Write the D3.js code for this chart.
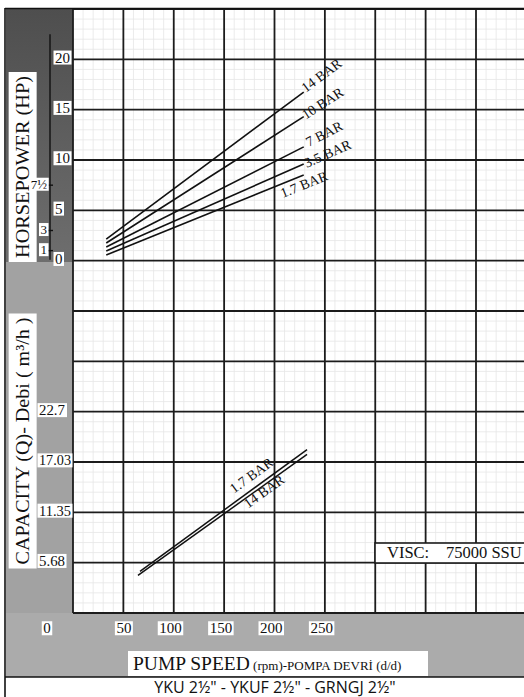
<!DOCTYPE html>
<html><head><meta charset="utf-8">
<script src="https://cdn.jsdelivr.net/npm/d3@7"></script>
<style>html,body{margin:0;padding:0;background:#fff}svg{display:block}</style>
</head><body>
<script>
// ---------- DATA ----------
const rpmTicks = [0, 50, 100, 150, 200, 250];
const hpTicks = [0, 5, 10, 15, 20];
const hpMarkValues = [1, 3, 7.5];
const hpMarkLabels = ["1", "3", "7½"];
const capTicks = [5.68, 11.35, 17.03, 22.7];
const capTickLabels = ["5.68", "11.35", "17.03", "22.7"];

const hpSeriesNames = ["14 BAR", "10 BAR", "7 BAR", "3.5 BAR", "1.7 BAR"];
const hpSpeed = [33, 229];          // rpm at both ends of HP lines
const hp14Bar = [2.15, 16.75];
const hp10Bar = [1.76, 14.3];
const hp7Bar = [1.36, 11.3];
const hp35Bar = [0.96, 9.6];
const hp17Bar = [0.57, 8.5];

const capSeriesNames = ["1.7 BAR", "14 BAR"];
const capSpeed17 = [66.5, 232.3];
const capSpeed14 = [64.5, 232.3];
const cap17Bar = [4.7, 18.45];
const cap14Bar = [4.25, 17.9];

const xTitleMain = "PUMP SPEED";
const xTitleSub = " (rpm)-POMPA DEVRİ (d/d)";
const hpTitle = "HORSEPOWER (HP)";
const capTitle = "CAPACITY (Q)- Debi ( m³/h )";
const viscText = ["VISC:", "75000 SSU"];
const chartTitle = "YKU 2½\" - YKUF 2½\" - GRNGJ 2½\"";

// ---------- LAYOUT ----------
const W = 524, H = 697;
const serif = "'Liberation Serif','Times New Roman',serif";
const svg = d3.select("body").append("svg").attr("width", W).attr("height", H);

const x = d3.scaleLinear().domain([0, 400]).range([73, 476]);
const yHP = d3.scaleLinear().domain([0, 20]).range([260.7, 59.3]);
const yCap = d3.scaleLinear().domain([0, 22.72]).range([613, 411.7]);
const yRow = d3.scaleLinear().domain([0, 12]).range([613, 9]);

const defs = svg.append("defs");
const grad = defs.append("linearGradient").attr("id", "dark").attr("x1", 0).attr("x2", 0).attr("y1", 0).attr("y2", 1);
grad.append("stop").attr("offset", "0%").attr("stop-color", "#4e4e4e");
grad.append("stop").attr("offset", "100%").attr("stop-color", "#6e6e6e");

svg.append("rect").attr("width", W).attr("height", H).attr("fill", "#fff");
// left panel
svg.append("rect").attr("x", 6).attr("y", 8).attr("width", 67).attr("height", 254).attr("fill", "url(#dark)");
svg.append("rect").attr("x", 6).attr("y", 262).attr("width", 67).attr("height", 351).attr("fill", "#a2a2a2");
// bottom band
svg.append("rect").attr("x", 6).attr("y", 613).attr("width", W - 6).attr("height", 64).attr("fill", "#ababab");

// minor grid
const gMinor = svg.append("g").attr("stroke", "#e6e6e6").attr("stroke-width", 0.8);
d3.range(0, 460, 10).filter(v => v % 50 !== 0 && x(v) < W).forEach(v => {
  gMinor.append("line").attr("x1", x(v)).attr("x2", x(v)).attr("y1", yRow(12)).attr("y2", yRow(0));
});
d3.range(0, 60).filter(i => i % 5 !== 0).forEach(i => {
  const yy = yRow(i / 5);
  gMinor.append("line").attr("x1", x(0)).attr("x2", W).attr("y1", yy).attr("y2", yy);
});
// major grid
const gMajor = svg.append("g").attr("stroke", "#1c1c1c").attr("stroke-width", 1.8);
d3.range(0, 460, 50).filter(v => x(v) < W + 2).forEach(v => {
  gMajor.append("line").attr("x1", x(v)).attr("x2", x(v)).attr("y1", yRow(12)).attr("y2", yRow(0));
});
d3.range(0, 13).forEach(i => {
  gMajor.append("line").attr("x1", x(0)).attr("x2", W).attr("y1", yRow(i)).attr("y2", yRow(i));
});

// borders
const gB = svg.append("g").attr("stroke", "#111").attr("stroke-width", 1.6);
gB.append("line").attr("x1", 5).attr("x2", 5).attr("y1", 8).attr("y2", H);
gB.append("line").attr("x1", 5).attr("x2", W).attr("y1", 8.5).attr("y2", 8.5);
gB.append("line").attr("x1", 5).attr("x2", W).attr("y1", 677).attr("y2", 677);

// boxed label helper
function label(parent, o) {
  const g = parent.append("g").attr("transform", `translate(${o.x},${o.y}) rotate(${o.rotate || 0})`);
  const t = g.append("text")
    .attr("text-anchor", o.anchor || "start")
    .attr("font-family", o.family || serif)
    .attr("font-size", o.size)
    .attr("dy", o.dy == null ? "0.35em" : o.dy)
    .attr("fill", "#111")
    .text(o.text);
  if (o.len) t.attr("textLength", o.len).attr("lengthAdjust", "spacingAndGlyphs");
  if (o.box) {
    const b = t.node().getBBox();
    const px = o.padX == null ? 1.5 : o.padX, py = o.padY == null ? -1 : o.padY;
    g.insert("rect", "text").attr("x", b.x - px).attr("y", b.y - py)
      .attr("width", b.width + 2 * px).attr("height", b.height + 2 * py).attr("fill", "#fff");
  }
  return t;
}

// axis titles (rotated)
label(svg, {x: 22, y: 167, rotate: -90, anchor: "middle", size: 19, text: hpTitle, box: true, padX: 4, padY: 3, len: 182});
label(svg, {x: 22, y: 441, rotate: -90, anchor: "middle", size: 19, text: capTitle, box: true, padX: 4, padY: 3, len: 247});

// HP tick labels
hpTicks.forEach(v => label(svg, {x: 55, y: yHP(v) - 2, size: 15, text: String(v), box: true}));
// HP small axis
svg.append("line").attr("x1", 50).attr("x2", 50).attr("y1", yHP(22.5)).attr("y2", yHP(0.1))
  .attr("stroke", "#111").attr("stroke-width", 1.4);
hpMarkValues.forEach((v, i) => {
  svg.append("line").attr("x1", 47).attr("x2", 53).attr("y1", yHP(v)).attr("y2", yHP(v))
    .attr("stroke", "#111").attr("stroke-width", 1.4);
  label(svg, {x: 47, y: yHP(v) - 1, anchor: "end", size: 13, text: hpMarkLabels[i], box: true});
});

// capacity tick labels
capTicks.forEach((v, i) => label(svg, {x: 39, y: yCap(v) - 2, size: 15, text: capTickLabels[i], box: true, len: capTickLabels[i].length > 4 ? 32 : 26}));

// x tick labels
rpmTicks.forEach(v => {
  if (v === 0) label(svg, {x: 47, y: 628, anchor: "middle", size: 15, text: "0", box: true});
  else label(svg, {x: x(v) + 8, y: 628, anchor: "end", size: 15, text: String(v), box: true});
});

// x title
{
  const g = svg.append("g");
  const t = g.append("text").attr("x", 133).attr("y", 670).attr("font-family", serif).attr("fill", "#111");
  t.append("tspan").attr("font-size", 19.5).text(xTitleMain);
  t.append("tspan").attr("font-size", 13).text(xTitleSub);
  g.insert("rect", "text").attr("x", 128).attr("y", 651).attr("width", 300).attr("height", 25).attr("fill", "#fff");
}

// chart title
svg.append("rect").attr("x", 103).attr("y", 678).attr("width", 322).attr("height", 19).attr("fill", "#fff");
svg.append("text").attr("x", 275).attr("y", 693).attr("text-anchor", "middle")
  .attr("font-family", "'Open Sans','Noto Sans',sans-serif").attr("font-size", 16).attr("fill", "#111")
  .text(chartTitle);

// VISC box
svg.append("rect").attr("x", 375).attr("y", 543).attr("width", 160).attr("height", 20)
  .attr("fill", "#fff").attr("stroke", "#1c1c1c").attr("stroke-width", 1.6);
svg.append("text").attr("x", 387).attr("y", 558).attr("font-family", serif).attr("font-size", 16.5).attr("fill", "#111").text(viscText[0]);
svg.append("text").attr("x", 446).attr("y", 558).attr("font-family", serif).attr("font-size", 16.5).attr("fill", "#111").text(viscText[1]);

// HP lines
const hpValues = [hp14Bar, hp10Bar, hp7Bar, hp35Bar, hp17Bar];
const hpLabelOffsets = [[2, 1], [2, 3], [5, 0], [3, 4], [-21, 23]];
const line = d3.line();
hpValues.forEach((vals, i) => {
  const pts = hpSpeed.map((s, j) => [x(s), yHP(vals[j])]);
  svg.append("path").attr("d", line(pts)).attr("fill", "none").attr("stroke", "#111").attr("stroke-width", 1.6);
  const ang = Math.atan2(pts[1][1] - pts[0][1], pts[1][0] - pts[0][0]) * 180 / Math.PI;
  const o = hpLabelOffsets[i];
  label(svg, {x: pts[1][0] + o[0], y: pts[1][1] + o[1], rotate: ang, size: 14, text: hpSeriesNames[i], dy: 0});
});

// capacity lines
const capSets = [[capSpeed17, cap17Bar], [capSpeed14, cap14Bar]];
const capLabelAt = [[234, -9], [248, 12]];
capSets.forEach(([sp, vals], i) => {
  const pts = sp.map((s, j) => [x(s), yCap(vals[j])]);
  svg.append("path").attr("d", line(pts)).attr("fill", "none").attr("stroke", "#111").attr("stroke-width", 1.5);
  const ang = Math.atan2(pts[1][1] - pts[0][1], pts[1][0] - pts[0][0]) * 180 / Math.PI;
  const lx = capLabelAt[i][0];
  const ly = d3.scaleLinear().domain([pts[0][0], pts[1][0]]).range([pts[0][1], pts[1][1]])(lx);
  label(svg, {x: lx, y: ly + capLabelAt[i][1], rotate: ang, size: 14, text: capSeriesNames[i], dy: 0});
});
</script>
</body></html>
